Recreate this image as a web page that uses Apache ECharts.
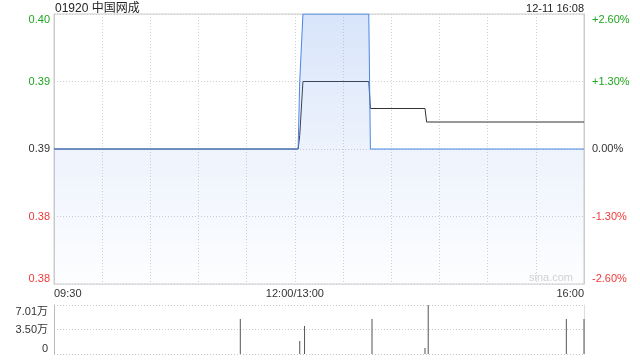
<!DOCTYPE html>
<html>
<head>
<meta charset="utf-8">
<script src="https://cdn.jsdelivr.net/npm/echarts@6/dist/echarts.min.js"></script>
<style>
html,body{margin:0;padding:0;background:#fff;}
#c{width:640px;height:360px;}
</style>
</head>
<body>
<div id="c"></div>
<script>
// ---- data (minute index from 09:30; 150 = 12:00/13:00, 330 = 16:00) ----
var titleText = '01920 中国网成';
var dateText = '12-11 16:08';
var timeTickMinutes = [0, 150, 330];
var timeTickLabels = ['09:30', '12:00/13:00', '16:00'];
var priceTickLabels = ['0.38', '0.38', '0.39', '0.39', '0.40'];
var pctTickLabels = ['-2.60%', '-1.30%', '0.00%', '+1.30%', '+2.60%'];
var volTickLabels = ['0', '3.50万', '7.01万'];

var priceMinutes = [0, 152, 153, 154, 155, 196, 197, 330];
var priceValues  = [0.385, 0.385, 0.39, 0.39, 0.395, 0.395, 0.385, 0.385];

var avgMinutes = [0, 152, 153, 154, 155, 196, 197, 231, 232, 330];
var avgValues  = [0.385, 0.385, 0.386, 0.386, 0.39, 0.39, 0.388, 0.388, 0.387, 0.387];

var volMinutes = [116, 153, 156, 198, 231, 233, 319, 330];
var volValues  = [50000, 18600, 40000, 50000, 8600, 70100, 50000, 50000];

// ---- build ----
function pairs(xs, ys){ return xs.map(function(x,i){ return [x, ys[i]]; }); }
var GREEN = '#1fa51f', RED = '#f03a3a', DARK = '#333';
var FONT = '"Liberation Sans", Arial, "Noto Sans CJK SC", sans-serif';
var styleByIdx = ['rb','r','k','g','gt'];
var richPrice = {
  rb: {color: RED, fontSize: 11, fontFamily: FONT, padding: [0,0,11,0]},
  r:  {color: RED, fontSize: 11, fontFamily: FONT},
  k:  {color: DARK, fontSize: 11, fontFamily: FONT},
  g:  {color: GREEN, fontSize: 11, fontFamily: FONT},
  gt: {color: GREEN, fontSize: 11, fontFamily: FONT, padding: [12,0,0,0]}
};
var richVol = {
  b: {color: DARK, fontSize: 11, fontFamily: FONT, padding: [0,0,10,0]},
  m: {color: DARK, fontSize: 11, fontFamily: FONT},
  t: {color: DARK, fontSize: 11, fontFamily: FONT, padding: [14,0,0,0]}
};
var volStyle = ['b','m','t'];

var chart = echarts.init(document.getElementById('c'), null, {renderer: 'canvas'});
var option = {
  animation: false,
  textStyle: {fontFamily: FONT},
  grid: [
    {left: 54, top: 14, width: 530, height: 270, show: true, borderColor: '#cccccc', borderWidth: 1, backgroundColor: 'transparent'},
    {left: 54, top: 305, width: 530, height: 49}
  ],
  xAxis: [
    {
      type: 'value', gridIndex: 0, min: 0, max: 330, interval: 30,
      axisLine: {show: false}, axisTick: {show: false},
      splitLine: {show: true, lineStyle: {color: '#d2d2d2', type: [1,2]}},
      axisLabel: {
        show: true, color: DARK, fontSize: 11, fontFamily: FONT, margin: 4,
        alignMinLabel: 'left', alignMaxLabel: 'right',
        formatter: function(v){ var i = timeTickMinutes.indexOf(v); return i >= 0 ? timeTickLabels[i] : ''; }
      }
    },
    {
      type: 'value', gridIndex: 1, min: 0, max: 330, interval: 30,
      axisLine: {show: false}, axisTick: {show: false}, axisLabel: {show: false},
      splitLine: {show: false}
    }
  ],
  yAxis: [
    {
      type: 'value', gridIndex: 0, position: 'left', min: 0.375, max: 0.395, interval: 0.005,
      axisLine: {show: true, lineStyle: {color: '#cccccc'}}, axisTick: {show: false},
      splitLine: {show: true, lineStyle: {color: '#cfcfcf', type: [1,2]}},
      axisLabel: {
        margin: 4, rich: richPrice,
        formatter: function(v, i){ return '{' + styleByIdx[i] + '|' + priceTickLabels[i] + '}'; }
      }
    },
    {
      type: 'value', gridIndex: 0, position: 'right', min: -2.6, max: 2.6, interval: 1.3,
      axisLine: {show: true, lineStyle: {color: '#cccccc'}}, axisTick: {show: false},
      splitLine: {show: false},
      axisLabel: {
        margin: 8, rich: richPrice,
        formatter: function(v, i){ return '{' + styleByIdx[i] + '|' + pctTickLabels[i] + '}'; }
      }
    },
    {
      type: 'value', gridIndex: 1, position: 'left', min: 0, max: 70100, interval: 35050,
      axisLine: {show: true, lineStyle: {color: '#bbbbbb'}}, axisTick: {show: false},
      splitLine: {show: true, lineStyle: {color: '#c8c8c8', type: [1,2]}},
      axisLabel: {
        margin: 6, rich: richVol,
        formatter: function(v, i){ return '{' + volStyle[i] + '|' + volTickLabels[i] + '}'; }
      }
    },
    {
      type: 'value', gridIndex: 1, position: 'right', min: 0, max: 70100, interval: 35050,
      axisLine: {show: true, lineStyle: {color: '#dddddd'}}, axisTick: {show: false},
      splitLine: {show: false}, axisLabel: {show: false}
    }
  ],
  series: [
    {
      type: 'line', xAxisIndex: 0, yAxisIndex: 0, data: pairs(avgMinutes, avgValues),
      symbol: 'none', z: 3,
      lineStyle: {color: '#333333', width: 1}
    },
    {
      type: 'line', xAxisIndex: 0, yAxisIndex: 0, data: pairs(priceMinutes, priceValues),
      symbol: 'none', z: 4,
      lineStyle: {color: '#4a86e6', width: 1},
      areaStyle: {
        origin: 'start',
        color: new echarts.graphic.LinearGradient(0, 0, 0, 1, [
          {offset: 0, color: 'rgba(100,150,235,0.36)'},
          {offset: 0.5, color: 'rgba(100,150,235,0.16)'},
          {offset: 1, color: 'rgba(100,150,235,0.02)'}
        ])
      }
    },
    {
      type: 'bar', xAxisIndex: 1, yAxisIndex: 2, data: pairs(volMinutes, volValues),
      barWidth: 1, itemStyle: {color: '#555555'}
    }
  ],
  graphic: [
    {type: 'text', left: 55, top: 3, style: {text: titleText, fill: '#222', font: '12px ' + FONT}},
    {type: 'text', right: 56, top: 3, style: {text: dateText, fill: '#222', font: '11px ' + FONT}},
    {type: 'text', right: 67, top: 272, style: {text: 'sina.com', fill: '#d2d2d2', font: '11px ' + FONT}}
  ]
};
chart.setOption(option);
</script>
</body>
</html>
